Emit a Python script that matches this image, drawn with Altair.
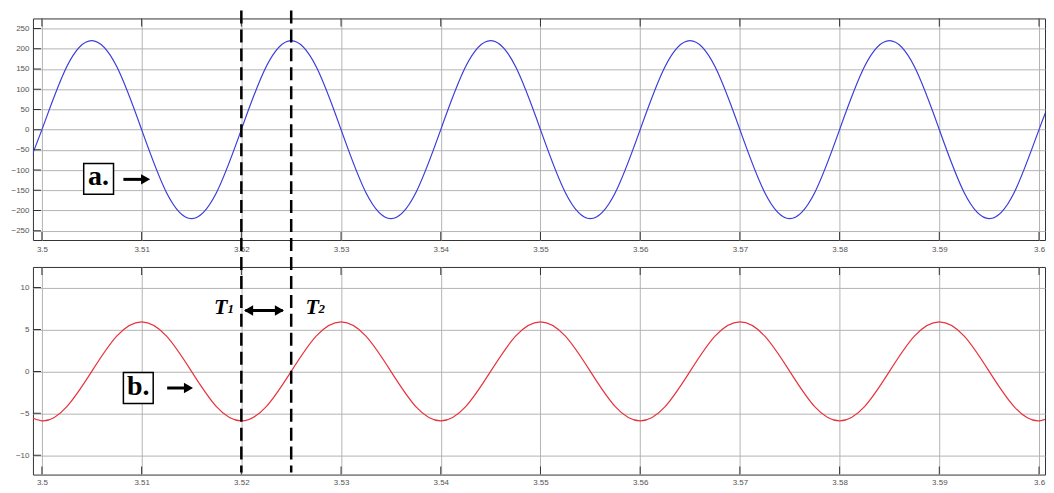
import altair as alt
import pandas as pd

# ---- data ----
time = [3.4975, 3.5, 3.5025, 3.505, 3.5075, 3.51, 3.5125, 3.515, 3.5175, 3.52,
        3.5225, 3.525, 3.5275, 3.53, 3.5325, 3.535, 3.5375, 3.54, 3.5425, 3.545,
        3.5475, 3.55, 3.5525, 3.555, 3.5575, 3.56, 3.5625, 3.565, 3.5675, 3.57,
        3.5725, 3.575, 3.5775, 3.58, 3.5825, 3.585, 3.5875, 3.59, 3.5925, 3.595,
        3.5975, 3.6, 3.6025]
voltage = [-156, 0, 156, 220, 156, 0, -156, -220,
           -156, 0, 156, 220, 156, 0, -156, -220,
           -156, 0, 156, 220, 156, 0, -156, -220,
           -156, 0, 156, 220, 156, 0, -156, -220,
           -156, 0, 156, 220, 156, 0, -156, -220,
           -156, 0, 156]
current = [-4.2, -5.9, -4.2, 0, 4.2, 5.9, 4.2, 0,
           -4.2, -5.9, -4.2, 0, 4.2, 5.9, 4.2, 0,
           -4.2, -5.9, -4.2, 0, 4.2, 5.9, 4.2, 0,
           -4.2, -5.9, -4.2, 0, 4.2, 5.9, 4.2, 0,
           -4.2, -5.9, -4.2, 0, 4.2, 5.9, 4.2, 0,
           -4.2, -5.9, -4.2]
x_ticks = [3.5, 3.51, 3.52, 3.53, 3.54, 3.55, 3.56, 3.57, 3.58, 3.59, 3.6]
v_ticks = [-250, -200, -150, -100, -50, 0, 50, 100, 150, 200, 250]
i_ticks = [-10, -5, 0, 5, 10]
markers = [3.52, 3.525]

X_DOM = [3.4991, 3.6006]
V_DOM = [-273, 275]
I_DOM = [-12.3, 12.45]

df = pd.DataFrame({"t": time, "v": voltage, "i": current})

W = 1014
GRID = "#b4b4b4"
FRAME = "#333"
xscale = alt.Scale(domain=X_DOM, nice=False, zero=False)
vscale = alt.Scale(domain=V_DOM, nice=False, zero=False)
iscale = alt.Scale(domain=I_DOM, nice=False, zero=False)


def xax(pad):
    return alt.Axis(values=x_ticks, labelExpr="format(datum.value, '.2~f')", grid=True,
                    ticks=False, domain=False, labelFontSize=8, labelColor="#555",
                    labelPadding=pad, gridColor=GRID, gridOpacity=1, title=None,
                    labelFont="Liberation Sans", labelFlush=False, labelOverlap=False)


def yax(vals):
    return alt.Axis(values=vals, grid=True, ticks=False, domain=False, labelFontSize=8,
                    labelColor="#555", labelPadding=4, gridColor=GRID, gridOpacity=1,
                    title=None, labelFont="Liberation Sans", labelFlush=False,
                    labelOverlap=False)


XA_TOP = xax(6)
XA_BOT = xax(4)
YA_TOP = yax(v_ticks)
YA_BOT = yax(i_ticks)


def TX(field):
    return alt.X(field, scale=xscale, axis=XA_TOP)


def BX(field):
    return alt.X(field, scale=xscale, axis=XA_BOT)


def AYv(field):
    return alt.Y(field, scale=vscale, axis=YA_TOP)


def AYi(field):
    return alt.Y(field, scale=iscale, axis=YA_BOT)


def inward_ticks(XF, YF, ydom, yvals):
    """Inward tick marks along the frame (clipped half-ticks)."""
    xt = pd.DataFrame({"tx": x_ticks * 2,
                       "ty": [ydom[0]] * len(x_ticks) + [ydom[1]] * len(x_ticks)})
    yt = pd.DataFrame({"tx": [X_DOM[0]] * len(yvals), "ty": yvals})
    a = alt.Chart(xt).mark_tick(orient="vertical", size=16, thickness=1, color=FRAME,
                                opacity=1, clip=True).encode(x=XF("tx:Q"), y=YF("ty:Q"))
    b = alt.Chart(yt).mark_tick(orient="horizontal", size=16, thickness=1, color=FRAME,
                                opacity=1, clip=True).encode(x=XF("tx:Q"), y=YF("ty:Q"))
    return [a, b]


# ---- top panel ----
top_line = alt.Chart(df).mark_line(color="#3c3cdc", strokeWidth=1.2, interpolate="natural",
                                   clip=True).encode(x=TX("t:Q"), y=AYv("v:Q"))

box_a = pd.DataFrame({"x1": [3.50419], "x2": [3.50718], "y1": [-83.7], "y2": [-160.1],
                      "xc": [3.50568], "yc": [-122], "lab": ["a."]})
rect_a = alt.Chart(box_a).mark_rect(fill="white", stroke="black", strokeWidth=1.5).encode(
    x=TX("x1:Q"), x2="x2:Q", y=AYv("y1:Q"), y2="y2:Q")
text_a = alt.Chart(box_a).mark_text(font="Liberation Serif", fontWeight="bold", fontSize=28,
                                    align="center", baseline="middle", dy=-2).encode(
    x=TX("xc:Q"), y=AYv("yc:Q"), text="lab:N")

arr_a = pd.DataFrame({"x1": [3.50817], "x2": [3.51000], "y": [-123], "hx": [3.51040]})
shaft_a = alt.Chart(arr_a).mark_rule(color="black", strokeWidth=3).encode(
    x=TX("x1:Q"), x2="x2:Q", y=AYv("y:Q"))
head_a = alt.Chart(arr_a).mark_point(shape="triangle-right", filled=True, color="black",
                                     size=110, opacity=1).encode(
    x=TX("hx:Q"), y=AYv("y:Q"))

top = alt.layer(top_line, *inward_ticks(TX, AYv, V_DOM, v_ticks),
                rect_a, text_a, shaft_a, head_a).properties(width=W, height=222)

# ---- bottom panel ----
bot_line = alt.Chart(df).mark_line(color="#e8323c", strokeWidth=1.2, interpolate="natural",
                                   clip=True).encode(x=BX("t:Q"), y=AYi("i:Q"))

box_b = pd.DataFrame({"x1": [3.50817], "x2": [3.51116], "y1": [-0.12], "y2": [-3.84],
                      "xc": [3.50967], "yc": [-1.98], "lab": ["b."]})
rect_b = alt.Chart(box_b).mark_rect(fill="white", stroke="black", strokeWidth=1.5).encode(
    x=BX("x1:Q"), x2="x2:Q", y=AYi("y1:Q"), y2="y2:Q")
text_b = alt.Chart(box_b).mark_text(font="Liberation Serif", fontWeight="bold", fontSize=28,
                                    align="center", baseline="middle", dy=-1).encode(
    x=BX("xc:Q"), y=AYi("yc:Q"), text="lab:N")

arr_b = pd.DataFrame({"x1": [3.51256], "x2": [3.51430], "y": [-1.98], "hx": [3.51470]})
shaft_b = alt.Chart(arr_b).mark_rule(color="black", strokeWidth=3).encode(
    x=BX("x1:Q"), x2="x2:Q", y=AYi("y:Q"))
head_b = alt.Chart(arr_b).mark_point(shape="triangle-right", filled=True, color="black",
                                     size=110, opacity=1).encode(
    x=BX("hx:Q"), y=AYi("y:Q"))

# double arrow between T1 and T2
darr = pd.DataFrame({"x1": [3.52040], "x2": [3.52415], "y": [7.27]})
dheads = pd.DataFrame({"hx": [3.52073, 3.52382], "y": [7.27, 7.27],
                       "shape": ["triangle-left", "triangle-right"]})
shaft_d = alt.Chart(darr).mark_rule(color="black", strokeWidth=3).encode(
    x=BX("x1:Q"), x2="x2:Q", y=AYi("y:Q"))
head_d = alt.Chart(dheads).mark_point(filled=True, color="black", size=110, opacity=1).encode(
    x=BX("hx:Q"), y=AYi("y:Q"),
    shape=alt.Shape("shape:N", scale=None, legend=None))

tl = pd.DataFrame({"x": [3.51794, 3.52711], "y": [7.69, 7.69], "lab": ["T", "T"]})
ts = pd.DataFrame({"x": [3.51894, 3.52806], "y": [7.39, 7.39], "lab": ["1", "2"]})
t_big = alt.Chart(tl).mark_text(font="Liberation Serif", fontWeight="bold", fontStyle="italic",
                                fontSize=22, align="center", baseline="middle").encode(
    x=BX("x:Q"), y=AYi("y:Q"), text="lab:N")
t_sub = alt.Chart(ts).mark_text(font="Liberation Serif", fontWeight="bold", fontStyle="italic",
                                fontSize=13, align="center", baseline="middle").encode(
    x=BX("x:Q"), y=AYi("y:Q"), text="lab:N")

rules = alt.Chart(pd.DataFrame({"t": markers})).mark_rule(
    color="black", strokeWidth=2.5, strokeDash=[13, 6], clip=False).encode(
    x=BX("t:Q"), y=alt.value(-257), y2=alt.value(206))

bottom = alt.layer(bot_line, *inward_ticks(BX, AYi, I_DOM, i_ticks),
                   rect_b, text_b, shaft_b, head_b, shaft_d, head_d,
                   t_big, t_sub, rules).properties(width=W, height=208)

chart = alt.vconcat(top, bottom, spacing=27, bounds="flush").properties(
    padding={"left": 2, "top": 0, "right": 0, "bottom": 0}
).configure_view(stroke=FRAME, strokeWidth=1, fill="white")

chart.save("out.html", embed_options={"renderer": "svg", "actions": False})
